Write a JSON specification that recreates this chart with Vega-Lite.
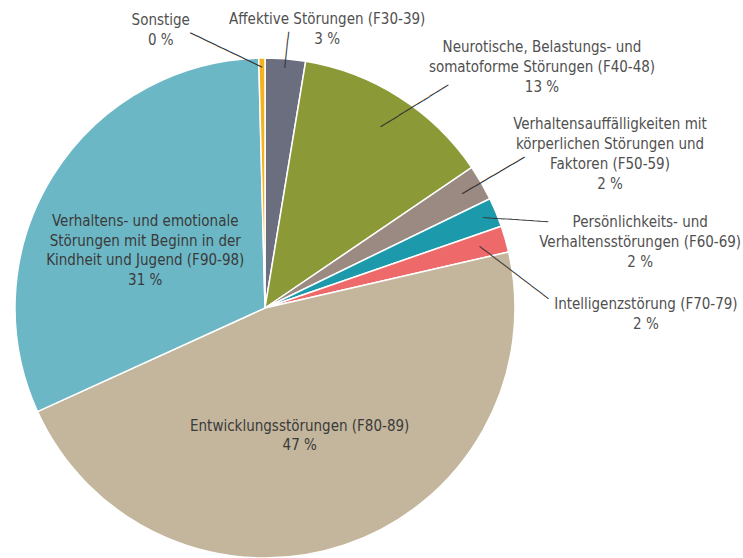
{
  "$schema": "https://vega.github.io/schema/vega-lite/v6.json",
  "width": 500,
  "height": 500,
  "autosize": "none",
  "padding": {"left": 15, "top": 58, "right": 228, "bottom": 0},
  "background": "white",
  "view": {"stroke": null},
  "config": {
    "text": {"font": "DejaVu Sans Condensed", "fontSize": 15, "lineHeight": 20, "align": "center", "baseline": "middle", "lineBreak": "\n", "fill": "#505050"}
  },
  "data": {
    "values": [
      {"key": "A", "category": "Affektive Störungen (F30-39)", "label": "Affektive Störungen (F30-39)\n3 %", "value": 2.6, "rank": 1},
      {"key": "N", "category": "Neurotische, Belastungs- und somatoforme Störungen (F40-48)", "label": "Neurotische, Belastungs- und\nsomatoforme Störungen (F40-48)\n13 %", "value": 12.9, "rank": 2},
      {"key": "V", "category": "Verhaltensauffälligkeiten mit körperlichen Störungen und Faktoren (F50-59)", "label": "Verhaltensauffälligkeiten mit\nkörperlichen Störungen und\nFaktoren (F50-59)\n2 %", "value": 2.3, "rank": 3},
      {"key": "P", "category": "Persönlichkeits- und Verhaltensstörungen (F60-69)", "label": "Persönlichkeits- und\nVerhaltensstörungen (F60-69)\n2 %", "value": 1.9, "rank": 4},
      {"key": "I", "category": "Intelligenzstörung (F70-79)", "label": "Intelligenzstörung (F70-79)\n2 %", "value": 1.7, "rank": 5},
      {"key": "E", "category": "Entwicklungsstörungen (F80-89)", "label": "Entwicklungsstörungen (F80-89)\n47 %", "value": 46.8, "rank": 6},
      {"key": "VE", "category": "Verhaltens- und emotionale Störungen mit Beginn in der Kindheit und Jugend (F90-98)", "label": "Verhaltens- und emotionale\nStörungen mit Beginn in der\nKindheit und Jugend (F90-98)\n31 %", "value": 31.4, "rank": 7},
      {"key": "S", "category": "Sonstige", "label": "Sonstige\n0 %", "value": 0.4, "rank": 8}
    ]
  },
  "encoding": {
    "theta": {"field": "value", "type": "quantitative", "stack": true},
    "order": {"field": "rank", "type": "quantitative", "sort": "ascending"},
    "detail": {"field": "key", "type": "nominal"}
  },
  "layer": [
    {
      "mark": {"type": "arc", "stroke": "white", "strokeWidth": 1.5},
      "encoding": {
        "color": {"field": "key", "type": "nominal", "legend": null,
          "scale": {"domain": ["A", "N", "V", "P", "I", "E", "VE", "S"],
                    "range": ["#6b6e7f", "#8b9a37", "#9b8a81", "#1c9aab", "#ee6a6a", "#c3b69c", "#6cb7c5", "#f4b21f"]}}
      }
    },
    {"mark": {"type": "text", "radius": 241, "angle": 205.6, "align": "left", "font": "DejaVu Sans Mono", "fontSize": 12, "fill": "#333333"},
     "encoding": {"text": {"condition": {"test": "datum.key === 'S'", "value": "───────────"}, "value": ""}}},
    {"mark": {"type": "text", "radius": 241, "angle": -83.5, "align": "left", "font": "DejaVu Sans Mono", "fontSize": 12, "fill": "#333333"},
     "encoding": {"text": {"condition": {"test": "datum.key === 'A'", "value": "─────"}, "value": ""}}},
    {"mark": {"type": "text", "radius": 215, "angle": -31.7, "align": "left", "font": "DejaVu Sans Mono", "fontSize": 12, "fill": "#333333"},
     "encoding": {"text": {"condition": {"test": "datum.key === 'N'", "value": "───────────"}, "value": ""}}},
    {"mark": {"type": "text", "radius": 228, "angle": -30.5, "align": "left", "font": "DejaVu Sans Mono", "fontSize": 12, "fill": "#333333"},
     "encoding": {"text": {"condition": {"test": "datum.key === 'V'", "value": "──────────"}, "value": ""}}},
    {"mark": {"type": "text", "radius": 236, "angle": 3.8, "align": "left", "font": "DejaVu Sans Mono", "fontSize": 12, "fill": "#333333"},
     "encoding": {"text": {"condition": {"test": "datum.key === 'P'", "value": "─────────"}, "value": ""}}},
    {"mark": {"type": "text", "radius": 223, "angle": 37.2, "align": "left", "font": "DejaVu Sans Mono", "fontSize": 12, "fill": "#333333"},
     "encoding": {"text": {"condition": {"test": "datum.key === 'I'", "value": "────────────"}, "value": ""}}},
    {"mark": {"type": "text", "radius": 260, "dx": -101, "dy": -28},
     "encoding": {"text": {"condition": {"test": "datum.key === 'S'", "field": "label", "type": "nominal"}, "value": ""}}},
    {"mark": {"type": "text", "radius": 260, "dx": 41, "dy": -29.5},
     "encoding": {"text": {"condition": {"test": "datum.key === 'A'", "field": "label", "type": "nominal"}, "value": ""}}},
    {"mark": {"type": "text", "radius": 260, "dx": 137, "dy": -42},
     "encoding": {"text": {"condition": {"test": "datum.key === 'N'", "field": "label", "type": "nominal"}, "value": ""}}},
    {"mark": {"type": "text", "radius": 260, "dx": 120, "dy": -54},
     "encoding": {"text": {"condition": {"test": "datum.key === 'V'", "field": "label", "type": "nominal"}, "value": ""}}},
    {"mark": {"type": "text", "radius": 260, "dx": 135, "dy": 13},
     "encoding": {"text": {"condition": {"test": "datum.key === 'P'", "field": "label", "type": "nominal"}, "value": ""}}},
    {"mark": {"type": "text", "radius": 260, "dx": 131, "dy": 68},
     "encoding": {"text": {"condition": {"test": "datum.key === 'I'", "field": "label", "type": "nominal"}, "value": ""}}},
    {"mark": {"type": "text", "radius": 133, "dx": -8, "dy": -8, "fill": "#3a3a3a", "lineHeight": 19.5},
     "encoding": {"text": {"condition": {"test": "datum.key === 'E'", "field": "label", "type": "nominal"}, "value": ""}}},
    {"mark": {"type": "text", "radius": 133, "dx": -7, "dy": -16, "fill": "#3a3a3a", "lineHeight": 19.5},
     "encoding": {"text": {"condition": {"test": "datum.key === 'VE'", "field": "label", "type": "nominal"}, "value": ""}}}
  ]
}
